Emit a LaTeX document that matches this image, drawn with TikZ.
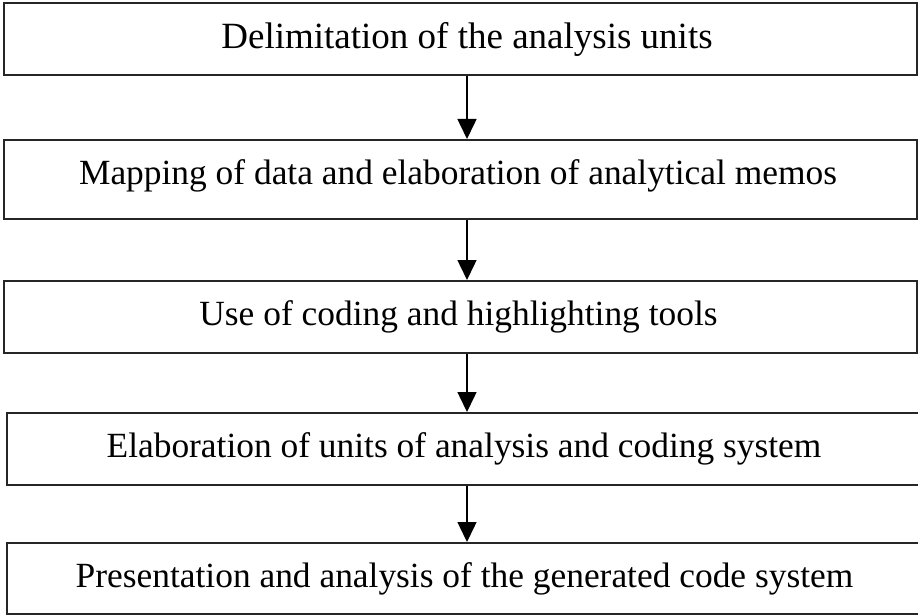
\documentclass[tikz,border=0pt]{standalone}
\usepackage{fontspec}
\setmainfont{Liberation Serif}
\usetikzlibrary{arrows.meta}

\tikzset{
    stagebox/.style={draw=black!85, line width=2pt, minimum height=72pt,
        inner sep=0pt},
    stagetext/.style={font=\fontsize{35.4}{42}\selectfont},
    flowarrow/.style={line width=1.5pt, -{Triangle[width=19pt,length=20pt]}}
}

\begin{document}
\begin{tikzpicture}[x=1pt,y=-1pt]
                \useasboundingbox (0,0) rectangle (918,615);
                \node[stagebox, minimum width=913pt,
                    label={[stagetext, font=\fontsize{37}{44}\selectfont, xshift=6.5pt]center:Delimitation of the analysis units}] (delim) at (460.5,39) {};
                \node[stagebox, minimum width=913pt, minimum height=79pt,
                    label={[stagetext, xshift=-2.5pt, yshift=4pt]center:Mapping of data and elaboration of analytical memos}] (mapping) at (460.5,179.5) {};
                \node[stagebox, minimum width=913pt,
                    label={[stagetext, xshift=-2pt]center:Use of coding and highlighting tools}] (coding) at (460.5,317) {};
                \node[stagebox, minimum width=923pt,
                    label={[stagetext, xshift=-4.5pt]center:Elaboration of units of analysis and coding system}] (units) at (468.5,449) {};
                \node[stagebox, minimum width=923pt, minimum height=71pt,
                    label={[stagetext, xshift=-4pt]center:Presentation and analysis of the generated code system}] (present) at (468.5,578.5) {};
                \coordinate (ax) at (467,0);
                \draw [flowarrow] (delim.south -| ax) -- (mapping.north -| ax);
                \draw [flowarrow] (mapping.south -| ax) -- (coding.north -| ax);
                \draw [flowarrow] (coding.south -| ax) -- (units.north -| ax);
                \draw [flowarrow] (units.south -| ax) -- (present.north -| ax);
\end{tikzpicture}
\end{document}
